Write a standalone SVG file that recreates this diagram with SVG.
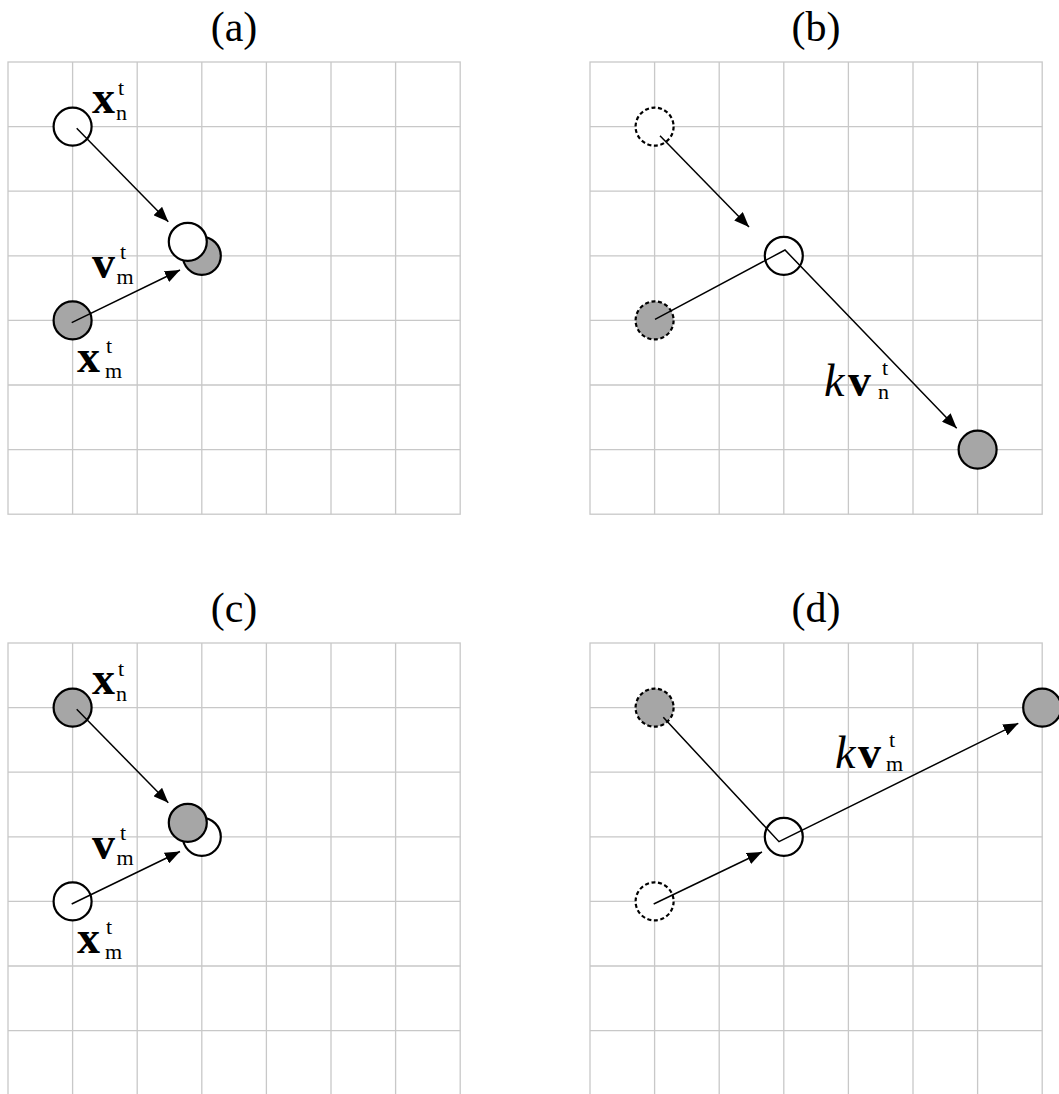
<svg xmlns="http://www.w3.org/2000/svg" width="1059" height="1094" viewBox="0 0 1059 1094">
<style>
.title{font-family:"Liberation Serif","Times New Roman",serif;font-size:42px;fill:#000;text-anchor:middle}
.gl{stroke:#c8c8c8;stroke-width:1.3;fill:none}
.pt{stroke:#000;stroke-width:2.2}
.w{fill:#fff}
.g{fill:#a6a6a6}
.d{stroke-dasharray:4 2.6}
.conn{stroke:#000;stroke-width:1.5;fill:none}
.lbl{font-family:"Liberation Serif","Times New Roman",serif;fill:#000}
.main{font-size:46px;font-weight:bold}
.k{font-size:46px;font-style:italic}
.s{font-size:22px}
</style>
<defs>
<marker id="ah" markerUnits="userSpaceOnUse" markerWidth="16" markerHeight="12" refX="15" refY="6" orient="auto">
<path d="M0,0 L15,6 L0,12 z" fill="#000"/>
</marker>
<g id="grid" class="gl">
<rect x="0" y="0" width="452.2" height="452.2"/>
<path d="M64.6,0V452.2M129.2,0V452.2M193.8,0V452.2M258.4,0V452.2M323,0V452.2M387.6,0V452.2M0,64.6H452.2M0,129.2H452.2M0,193.8H452.2M0,258.4H452.2M0,323H452.2M0,387.6H452.2"/>
</g>
</defs>
<rect width="1059" height="1094" fill="#fff"/>
<g id="grids">
<use href="#grid" x="8" y="62"/>
<use href="#grid" x="590" y="62"/>
<use href="#grid" x="8" y="643"/>
<use href="#grid" x="590" y="643"/>
</g>
<g id="titles">
<text class="title" x="234" y="41">(a)</text>
<text class="title" x="816" y="41">(b)</text>
<text class="title" x="234" y="622">(c)</text>
<text class="title" x="816" y="622">(d)</text>
</g>
<!-- panel a -->
<g id="a-xn">
<circle class="pt w" cx="72.6" cy="126.6" r="19"/>
<text class="lbl"><tspan class="main" x="92" y="113">x</tspan><tspan class="s" x="116" y="119.5">n</tspan><tspan class="s" x="118" y="95">t</tspan></text>
</g>
<g id="a-xm">
<circle class="pt g" cx="72.6" cy="320.4" r="19"/>
<text class="lbl"><tspan class="main" x="77" y="372">x</tspan><tspan class="s" x="105" y="378">m</tspan><tspan class="s" x="106" y="353">t</tspan></text>
</g>
<g id="a-m-new">
<circle class="pt g" cx="201.8" cy="255.8" r="19"/>
</g>
<g id="a-n-new">
<circle class="pt w" cx="187.8" cy="241.8" r="19"/>
</g>
<g id="a-vlabel">
<text class="lbl"><tspan class="main" x="92" y="278">v</tspan><tspan class="s" x="116.5" y="284">m</tspan><tspan class="s" x="120" y="259">t</tspan></text>
</g>
<!-- panel b -->
<g id="b-n-old">
<circle class="pt w d" cx="654.6" cy="126.6" r="19"/>
</g>
<g id="b-m-old">
<circle class="pt g d" cx="654.6" cy="320.4" r="19"/>
</g>
<g id="b-n-new">
<circle class="pt w" cx="783.8" cy="255.8" r="19"/>
</g>
<g id="b-m-new">
<circle class="pt g" cx="977.6" cy="449.6" r="19"/>
</g>
<g id="b-label">
<text class="lbl"><tspan class="k" x="824" y="396">k</tspan><tspan class="main" x="848" y="396">v</tspan><tspan class="s" x="878" y="399">n</tspan><tspan class="s" x="882" y="375">t</tspan></text>
</g>
<!-- panel c -->
<g id="c-xn">
<circle class="pt g" cx="72.6" cy="707.6" r="19"/>
<text class="lbl"><tspan class="main" x="92" y="694">x</tspan><tspan class="s" x="116" y="700.5">n</tspan><tspan class="s" x="118" y="676">t</tspan></text>
</g>
<g id="c-xm">
<circle class="pt w" cx="72.6" cy="901.4" r="19"/>
<text class="lbl"><tspan class="main" x="77" y="953">x</tspan><tspan class="s" x="105" y="959">m</tspan><tspan class="s" x="106" y="934">t</tspan></text>
</g>
<g id="c-m-new">
<circle class="pt w" cx="201.8" cy="836.8" r="19"/>
</g>
<g id="c-n-new">
<circle class="pt g" cx="187.8" cy="822.8" r="19"/>
</g>
<g id="c-vlabel">
<text class="lbl"><tspan class="main" x="92" y="859">v</tspan><tspan class="s" x="116.5" y="865">m</tspan><tspan class="s" x="120" y="840">t</tspan></text>
</g>
<!-- panel d -->
<g id="d-n-old">
<circle class="pt g d" cx="654.6" cy="707.6" r="19"/>
</g>
<g id="d-m-old">
<circle class="pt w d" cx="654.6" cy="901.4" r="19"/>
</g>
<g id="d-m-new">
<circle class="pt w" cx="783.8" cy="836.8" r="19"/>
</g>
<g id="d-n-new">
<circle class="pt g" cx="1042.2" cy="707.6" r="19"/>
</g>
<g id="d-label">
<text class="lbl"><tspan class="k" x="835" y="768">k</tspan><tspan class="main" x="858" y="768">v</tspan><tspan class="s" x="886" y="771">m</tspan><tspan class="s" x="889" y="747">t</tspan></text>
</g>
<g id="connectors" class="conn">
<path d="M76.7,128.3 L168.3,221.7" marker-end="url(#ah)"/>
<path d="M71.7,322.7 L180,270" marker-end="url(#ah)"/>
<path d="M660,135.7 L749,227" marker-end="url(#ah)"/>
<path d="M655,319.3 L785,250 L956.7,428.3" marker-end="url(#ah)"/>
<path d="M76.7,709.3 L168.3,802.7" marker-end="url(#ah)"/>
<path d="M71.7,904 L180,851.5" marker-end="url(#ah)"/>
<path d="M663.3,717.3 L779,841.7 L1018.3,723.3" marker-end="url(#ah)"/>
<path d="M653.7,904 L762,852" marker-end="url(#ah)"/>
</g>
</svg>
